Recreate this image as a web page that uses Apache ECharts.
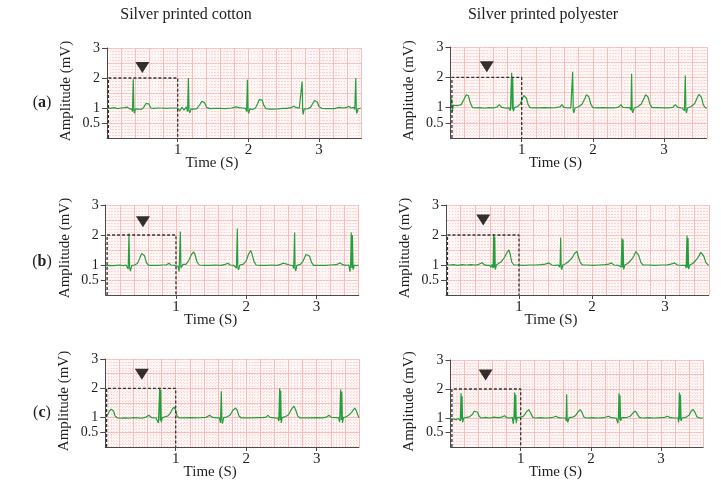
<!DOCTYPE html>
<html>
<head>
<meta charset="utf-8">
<script src="https://cdn.jsdelivr.net/npm/echarts@6/dist/echarts.min.js"></script>
<style>
  html, body { margin: 0; padding: 0; background: #fff; }
  #chart { width: 721px; height: 481px; }
</style>
</head>
<body>
<div id="chart"></div>
<script>
// ECG traces, [time (s), amplitude (mV)]
const cottonA = [
  [0.00,1.00],[0.05,0.99],[0.10,1.01],[0.15,0.98],[0.20,1.00],[0.25,1.01],[0.29,1.03],[0.32,0.97],[0.35,0.96],
  [0.36,0.88],[0.372,1.96],[0.38,0.92],[0.39,0.82],[0.40,0.97],[0.44,0.96],[0.48,0.95],[0.52,1.02],[0.55,1.15],
  [0.57,1.21],[0.59,1.14],[0.62,1.00],[0.66,0.99],[0.72,1.00],[0.78,1.00],[0.84,0.99],[0.90,1.00],[0.96,1.00],
  [1.00,1.00],[1.03,0.90],[1.06,1.03],[1.09,0.93],[1.12,1.04],[1.14,0.88],[1.151,2.00],[1.16,0.92],[1.17,0.84],
  [1.19,0.97],[1.23,0.96],[1.27,0.98],[1.31,1.10],[1.34,1.22],[1.36,1.26],[1.38,1.18],[1.41,1.02],[1.46,0.98],
  [1.52,0.99],[1.60,0.99],[1.68,0.98],[1.76,1.00],[1.82,1.04],[1.845,1.07],[1.87,1.01],[1.92,1.00],[1.96,0.99],
  [1.975,0.88],[1.986,1.94],[1.995,0.90],[2.005,0.82],[2.02,0.97],[2.06,0.95],[2.10,1.00],[2.13,1.14],[2.155,1.28],
  [2.175,1.33],[2.195,1.26],[2.22,1.08],[2.25,0.98],[2.30,0.96],[2.36,0.96],[2.42,0.97],[2.48,0.99],[2.54,0.99],
  [2.60,1.01],[2.646,1.06],[2.68,1.01],[2.72,1.00],[2.745,0.96],[2.76,1.88],[2.768,0.90],[2.775,0.79],[2.79,0.97],
  [2.84,0.98],[2.88,1.02],[2.91,1.15],[2.935,1.25],[2.953,1.27],[2.975,1.20],[3.00,1.04],[3.04,0.99],[3.10,0.98],
  [3.16,0.98],[3.22,0.98],[3.28,1.02],[3.34,1.00],[3.39,1.02],[3.42,1.06],[3.45,1.00],[3.49,1.02],[3.505,0.95],
  [3.519,2.00],[3.527,0.90],[3.535,0.82],[3.55,0.97],[3.57,0.93],[3.59,1.00]
];
const polyesterA = [
  [0.00,1.20],[0.015,1.30],[0.025,0.85],[0.04,1.08],[0.10,1.07],[0.15,1.10],[0.19,1.28],[0.22,1.42],[0.235,1.45],
  [0.25,1.40],[0.28,1.15],[0.31,1.00],[0.36,0.99],[0.42,1.00],[0.48,0.98],[0.54,1.00],[0.60,0.99],[0.65,1.02],
  [0.686,1.10],[0.72,1.01],[0.78,0.98],[0.82,0.99],[0.84,0.90],[0.859,2.15],[0.866,0.95],[0.874,2.00],[0.882,0.88],
  [0.90,1.00],[0.94,1.04],[0.98,1.12],[1.01,1.30],[1.03,1.40],[1.046,1.42],[1.065,1.32],[1.09,1.10],[1.12,1.00],
  [1.16,0.99],[1.24,0.99],[1.32,1.00],[1.40,0.99],[1.48,1.00],[1.54,1.03],[1.566,1.10],[1.59,1.02],[1.64,0.99],
  [1.69,0.99],[1.705,0.93],[1.716,2.18],[1.724,0.90],[1.732,0.83],[1.75,0.99],[1.80,1.03],[1.85,1.12],[1.89,1.32],
  [1.91,1.43],[1.926,1.46],[1.945,1.35],[1.97,1.12],[2.00,1.00],[2.06,0.99],[2.14,1.00],[2.22,0.99],[2.30,0.99],
  [2.36,1.02],[2.395,1.10],[2.42,1.01],[2.48,1.00],[2.52,0.99],[2.535,0.92],[2.544,2.12],[2.552,0.90],[2.56,0.83],
  [2.58,0.99],[2.63,1.03],[2.68,1.12],[2.72,1.32],[2.74,1.43],[2.755,1.46],[2.775,1.35],[2.80,1.12],[2.83,1.00],
  [2.90,1.00],[2.98,0.99],[3.06,0.99],[3.12,1.01],[3.158,1.10],[3.19,1.02],[3.25,0.99],[3.285,0.90],[3.298,2.06],
  [3.306,0.92],[3.314,0.83],[3.33,0.99],[3.38,1.04],[3.43,1.14],[3.47,1.35],[3.49,1.44],[3.504,1.46],[3.525,1.34],
  [3.55,1.10],[3.58,0.99],[3.60,1.00]
];
const cottonB = [
  [0.00,0.98],[0.05,0.99],[0.10,0.98],[0.15,0.99],[0.20,1.00],[0.25,0.98],[0.29,1.00],[0.31,0.98],[0.32,0.86],
  [0.331,2.05],[0.34,0.92],[0.352,0.80],[0.37,0.98],[0.41,1.00],[0.45,1.05],[0.48,1.20],[0.51,1.38],[0.531,1.42],
  [0.55,1.32],[0.58,1.08],[0.61,0.99],[0.67,0.99],[0.74,0.99],[0.80,1.00],[0.86,1.00],[0.90,1.06],[0.93,1.00],
  [0.98,0.99],[1.03,0.95],[1.045,0.78],[1.062,2.12],[1.07,0.90],[1.08,0.85],[1.10,1.02],[1.14,1.02],[1.18,1.14],
  [1.22,1.35],[1.251,1.44],[1.27,1.35],[1.30,1.10],[1.33,1.00],[1.40,0.99],[1.48,0.99],[1.56,1.00],[1.64,0.99],
  [1.70,1.02],[1.74,1.06],[1.77,1.00],[1.82,0.99],[1.86,0.90],[1.873,2.22],[1.88,0.92],[1.89,0.84],[1.91,1.00],
  [1.96,1.03],[2.00,1.14],[2.03,1.35],[2.062,1.48],[2.08,1.38],[2.11,1.12],[2.14,1.00],[2.20,0.99],[2.28,0.99],
  [2.36,1.00],[2.44,0.99],[2.49,1.02],[2.522,1.06],[2.55,1.00],[2.62,1.00],[2.665,0.97],[2.675,0.88],[2.688,2.08],
  [2.695,0.90],[2.705,0.80],[2.72,0.99],[2.77,1.02],[2.81,1.14],[2.85,1.35],[2.878,1.41],[2.90,1.30],[2.93,1.08],
  [2.96,0.99],[3.04,0.99],[3.12,0.99],[3.20,1.00],[3.28,1.01],[3.338,1.07],[3.37,1.01],[3.42,0.99],[3.46,1.00],
  [3.475,0.78],[3.485,1.02],[3.494,2.08],[3.502,0.90],[3.51,2.00],[3.52,0.85],[3.54,1.00],[3.57,0.98],[3.60,1.00]
];
const polyesterB = [
  [0.00,1.00],[0.05,1.00],[0.10,1.01],[0.16,0.99],[0.22,1.01],[0.28,1.00],[0.34,1.01],[0.40,1.00],[0.44,1.01],
  [0.47,1.05],[0.498,1.08],[0.52,1.01],[0.56,0.99],[0.60,0.99],[0.615,0.92],[0.63,1.02],[0.645,0.90],[0.653,2.03],
  [0.66,0.92],[0.668,1.95],[0.675,0.85],[0.69,1.00],[0.72,1.05],[0.76,1.12],[0.80,1.25],[0.835,1.42],[0.863,1.50],
  [0.88,1.35],[0.90,1.10],[0.93,1.00],[0.98,1.00],[1.06,0.99],[1.14,1.00],[1.22,1.00],[1.30,1.01],[1.36,1.03],
  [1.41,1.07],[1.45,1.00],[1.50,0.99],[1.54,1.00],[1.555,0.93],[1.563,1.02],[1.571,1.92],[1.578,0.92],[1.585,0.85],
  [1.60,1.00],[1.64,1.04],[1.69,1.14],[1.73,1.25],[1.765,1.40],[1.795,1.45],[1.81,1.30],[1.84,1.08],[1.87,1.00],
  [1.94,1.00],[2.02,0.99],[2.10,1.00],[2.18,1.01],[2.23,1.03],[2.265,1.07],[2.30,1.00],[2.36,0.99],[2.40,0.93],
  [2.411,1.89],[2.418,0.92],[2.426,1.85],[2.433,0.85],[2.45,1.00],[2.49,1.05],[2.53,1.15],[2.57,1.28],[2.60,1.45],
  [2.621,1.50],[2.64,1.32],[2.67,1.08],[2.70,1.00],[2.78,1.00],[2.86,0.99],[2.94,1.00],[3.02,1.00],[3.08,1.03],
  [3.132,1.07],[3.17,1.00],[3.24,0.99],[3.28,0.99],[3.29,0.90],[3.301,1.98],[3.308,0.92],[3.316,1.90],[3.323,0.86],
  [3.34,1.00],[3.38,1.05],[3.42,1.15],[3.46,1.28],[3.49,1.42],[3.511,1.48],[3.53,1.30],[3.56,1.08],[3.60,0.98]
];
const cottonC = [
  [0.00,1.02],[0.03,1.08],[0.06,1.22],[0.085,1.29],[0.10,1.30],[0.12,1.22],[0.14,1.06],[0.17,0.99],[0.22,0.98],
  [0.28,0.99],[0.34,0.98],[0.40,1.00],[0.46,0.99],[0.52,0.98],[0.58,1.02],[0.62,1.08],[0.66,1.00],[0.72,0.99],
  [0.74,0.98],[0.755,0.82],[0.773,2.02],[0.78,0.90],[0.787,1.95],[0.795,0.84],[0.81,1.00],[0.85,1.03],[0.89,1.06],
  [0.92,1.14],[0.95,1.28],[0.976,1.36],[0.995,1.28],[1.02,1.05],[1.05,0.99],[1.12,0.99],[1.20,1.00],[1.28,0.99],
  [1.36,1.00],[1.43,1.01],[1.482,1.08],[1.52,1.01],[1.58,0.99],[1.62,0.99],[1.635,0.82],[1.647,1.90],[1.655,0.92],
  [1.663,0.80],[1.68,1.00],[1.72,1.02],[1.77,1.08],[1.81,1.25],[1.851,1.33],[1.87,1.26],[1.90,1.05],[1.93,0.99],
  [2.00,0.99],[2.08,0.99],[2.16,1.00],[2.24,1.00],[2.28,1.02],[2.309,1.08],[2.34,1.01],[2.40,0.99],[2.45,0.98],
  [2.462,0.88],[2.475,2.00],[2.482,0.92],[2.49,1.92],[2.497,0.82],[2.51,1.00],[2.56,1.04],[2.60,1.10],[2.64,1.28],
  [2.678,1.39],[2.70,1.28],[2.73,1.06],[2.76,0.99],[2.84,0.99],[2.92,0.99],[3.00,1.00],[3.08,0.99],[3.14,1.02],
  [3.174,1.08],[3.21,1.01],[3.27,1.00],[3.31,0.99],[3.325,0.85],[3.34,1.96],[3.348,0.92],[3.356,1.88],[3.365,0.82],
  [3.38,1.00],[3.42,1.03],[3.47,1.12],[3.50,1.20],[3.538,1.33],[3.56,1.25],[3.585,1.08],[3.60,1.00]
];
const polyesterC = [
  [0.00,0.97],[0.02,0.93],[0.05,0.96],[0.08,0.94],[0.11,0.98],[0.13,0.95],[0.14,0.90],[0.15,1.85],[0.158,0.95],
  [0.165,1.75],[0.172,0.85],[0.19,1.00],[0.23,1.02],[0.27,1.04],[0.31,1.12],[0.34,1.24],[0.363,1.27],[0.385,1.20],
  [0.41,1.05],[0.44,1.00],[0.50,1.02],[0.56,1.00],[0.62,1.03],[0.68,1.01],[0.73,1.03],[0.77,1.08],[0.80,1.01],
  [0.85,1.00],[0.88,1.02],[0.895,0.80],[0.905,1.05],[0.914,1.88],[0.922,0.95],[0.93,1.80],[0.937,0.82],[0.95,1.02],
  [0.99,1.02],[1.04,1.06],[1.08,1.20],[1.114,1.29],[1.14,1.18],[1.17,1.03],[1.21,1.00],[1.28,1.01],[1.36,1.00],
  [1.44,1.01],[1.503,1.06],[1.54,1.01],[1.60,1.00],[1.64,1.00],[1.648,0.90],[1.655,1.82],[1.662,0.95],[1.67,0.85],
  [1.69,1.01],[1.74,1.03],[1.78,1.08],[1.82,1.22],[1.849,1.29],[1.875,1.18],[1.90,1.03],[1.94,1.00],[2.02,1.01],
  [2.10,1.00],[2.18,1.01],[2.253,1.06],[2.29,1.01],[2.36,1.00],[2.385,0.82],[2.392,1.02],[2.40,1.85],[2.408,0.95],
  [2.415,1.78],[2.423,0.90],[2.44,1.01],[2.50,1.01],[2.56,1.06],[2.60,1.18],[2.633,1.24],[2.66,1.14],[2.69,1.02],
  [2.74,1.00],[2.82,1.01],[2.90,1.00],[2.98,1.01],[3.05,1.02],[3.093,1.06],[3.13,1.01],[3.20,1.00],[3.24,1.00],
  [3.25,0.85],[3.26,1.88],[3.268,0.95],[3.276,1.80],[3.285,0.90],[3.30,1.00],[3.36,1.03],[3.40,1.10],[3.43,1.24],
  [3.459,1.29],[3.485,1.18],[3.51,1.04],[3.55,1.00],[3.60,1.00]
];

const xTicks = [1, 2, 3];
const yTicks = [0.5, 1, 2, 3];
// dashed one-second window and the ▼ marker above it
const boxCorners = [[0.02, 0], [0.02, 2], [1, 2], [1, 0]];
const markers = [[0.5, 2.35], [0.51, 2.35], [0.53, 2.44], [0.51, 2.5], [0.52, 2.48], [0.5, 2.48]];
const columnTitles = ['Silver printed cotton', 'Silver printed polyester'];
const rowLabels = ['a', 'b', 'c'];

const traces = [cottonA, polyesterA, cottonB, polyesterB, cottonC, polyesterC];

// panel boxes in pixels (left, top, width, height)
const panels = [
  [107, 48, 254.5, 90],
  [450.5, 47, 256.3, 91],
  [105.7, 205, 253, 90],
  [446, 205, 262.8, 90],
  [105.2, 359, 253.8, 88],
  [450.5, 360, 252.7, 87]
];

const font = 'Liberation Serif';
const ink = '#1e1e1e';
const axisInk = '#4a4a4a';
const traceGreen = '#23a03e';
const paperMajor = '#f8bcbc';
const paperMinor = '#fad3d3';

const chart = echarts.init(document.getElementById('chart'));

const grid = [], xAxis = [], yAxis = [], series = [], graphic = [];

panels.forEach(([left, top, width, height], i) => {
  grid.push({
    left, top, width, height,
    show: true, backgroundColor: '#fff6f6', borderWidth: 0
  });

  // ECG paper lines
  xAxis.push({
    gridIndex: i, type: 'value', position: 'top', min: 0, max: 3.6, interval: 0.2,
    axisLine: { show: false }, axisTick: { show: false }, axisLabel: { show: false },
    splitLine: { show: true, lineStyle: { color: paperMajor, width: 1 } },
    minorTick: { show: false, splitNumber: 5 },
    minorSplitLine: { show: true, lineStyle: { color: paperMinor, width: 1, type: [1, 2] } }
  });
  // visible time axis
  xAxis.push({
    gridIndex: i, type: 'value', position: 'bottom', min: 0, max: 3.6,
    axisLine: { show: true, onZero: false, lineStyle: { color: axisInk, width: 1 } },
    axisTick: { show: true, customValues: xTicks, length: 4, lineStyle: { color: axisInk } },
    axisLabel: { customValues: xTicks, color: ink, fontFamily: font, fontSize: 15, margin: 5, hideOverlap: false },
    splitLine: { show: false }
  });

  yAxis.push({
    gridIndex: i, type: 'value', position: 'right', min: 0, max: 3, interval: 0.5,
    axisLine: { show: false }, axisTick: { show: false }, axisLabel: { show: false },
    splitLine: { show: true, lineStyle: { color: paperMajor, width: 1 } },
    minorTick: { show: false, splitNumber: 5 },
    minorSplitLine: { show: true, lineStyle: { color: paperMinor, width: 1, type: [1, 2] } }
  });
  yAxis.push({
    gridIndex: i, type: 'value', position: 'left', min: 0, max: 3,
    axisLine: { show: true, onZero: false, lineStyle: { color: axisInk, width: 1 } },
    axisTick: { show: true, customValues: yTicks, length: 5, lineStyle: { color: axisInk } },
    axisLabel: {
      customValues: yTicks, color: ink, fontFamily: font, fontSize: 14, margin: 7,
      hideOverlap: false, lineHeight: 12
    },
    splitLine: { show: false }
  });

  const xi = 2 * i + 1, yi = 2 * i + 1;
  series.push({
    type: 'line', xAxisIndex: xi, yAxisIndex: yi, data: traces[i],
    symbol: 'none', lineStyle: { color: traceGreen, width: 1.2 }, z: 3
  });
  series.push({
    type: 'line', xAxisIndex: xi, yAxisIndex: yi, data: boxCorners,
    symbol: 'none', lineStyle: { color: '#333', width: 1.3, type: [3, 2] }, z: 4
  });
  series.push({
    type: 'scatter', xAxisIndex: xi, yAxisIndex: yi, data: [markers[i]],
    symbol: 'triangle', symbolRotate: 180, symbolSize: [14, 11],
    itemStyle: { color: '#000' }, z: 5
  });

  // axis titles
  graphic.push({
    type: 'text', x: left - 41, y: top + height / 2 - 2, rotation: Math.PI / 2,
    style: { text: 'Amplitude (mV)', fill: ink, fontFamily: font, fontSize: 15, align: 'center', verticalAlign: 'middle' }
  });
  graphic.push({
    type: 'text', x: left + 105, y: top + height + 25,
    style: { text: 'Time (S)', fill: ink, fontFamily: font, fontSize: 15, align: 'center', verticalAlign: 'middle' }
  });
});

columnTitles.forEach((t, c) => {
  graphic.push({
    type: 'text', x: c === 0 ? 186 : 543, y: 15,
    style: { text: t, fill: ink, fontFamily: font, fontSize: 16, align: 'center', verticalAlign: 'middle' }
  });
});
const rowY = [103, 262, 413];
rowLabels.forEach((r, k) => {
  graphic.push({
    type: 'text', x: 42, y: rowY[k],
    style: {
      text: '({b|' + r + '})', fill: ink, fontFamily: font, fontSize: 16, align: 'center', verticalAlign: 'middle',
      rich: { b: { fontFamily: font, fontSize: 16, fontWeight: 'bold', fill: ink } }
    }
  });
});

chart.setOption({
  animation: false,
  backgroundColor: '#fff',
  grid, xAxis, yAxis, series, graphic
});
</script>
</body>
</html>
